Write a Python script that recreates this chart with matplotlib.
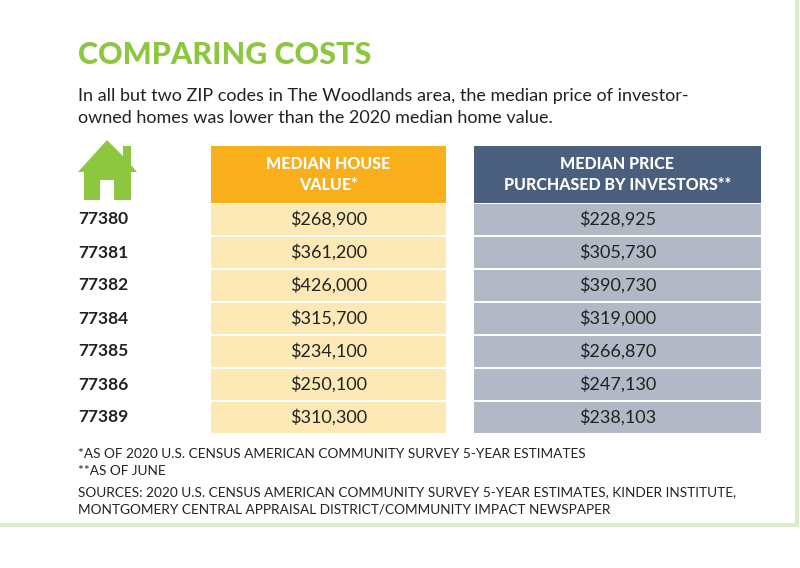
import matplotlib.pyplot as plt
from matplotlib.patches import Rectangle, Polygon

zips = ['77380', '77381', '77382', '77384', '77385', '77386', '77389']
house_value = ['$268,900', '$361,200', '$426,000', '$315,700', '$234,100', '$250,100', '$310,300']
investor_price = ['$228,925', '$305,730', '$390,730', '$319,000', '$266,870', '$247,130', '$238,103']

green = '#8dc63f'
plt.rcParams['font.family'] = ['Lato', 'DejaVu Sans']

fig = plt.figure(figsize=(8, 5.68), dpi=100)
ax = fig.add_axes([0, 0, 1, 1])
ax.set_xlim(0, 800)
ax.set_ylim(568, 0)
ax.axis('off')

# light green frame on the right and bottom
ax.plot([797, 797], [0, 525], color='#dcebc8', lw=3)
ax.plot([0, 797], [525, 525], color='#dcebc8', lw=3)

ax.text(78, 55, 'COMPARING COSTS', color=green, fontsize=22, fontweight='black', va='center')
ax.text(78, 96, 'In all but two ZIP codes in The Woodlands area, the median price of investor-',
        fontsize=13, va='center', color='#222222')
ax.text(78, 118, 'owned homes was lower than the 2020 median home value.',
        fontsize=13, va='center', color='#222222')

# house icon
ax.add_patch(Polygon([(78, 172), (107, 140), (123, 156), (123, 146), (131, 146), (131, 165),
                      (137, 172), (131, 172), (131, 200), (114, 200), (114, 180), (100, 180),
                      (100, 200), (84, 200), (84, 172)], closed=True, color=green, lw=0))

cols = [(211, 446, '#f9ae1c', '#fde9b5', 'MEDIAN HOUSE\nVALUE*', house_value),
        (474, 761, '#4a5f7e', '#b2b8c6', 'MEDIAN PRICE\nPURCHASED BY INVESTORS**', investor_price)]
top, head_h, row_h = 146, 57, 33
for x0, x1, hc, rc, title, vals in cols:
    ax.add_patch(Rectangle((x0, top), x1 - x0, head_h, color=hc, lw=0))
    ax.text((x0 + x1) / 2, top + head_h / 2, title, color='white', fontsize=11.5,
            fontweight='black', ha='center', va='center', linespacing=1.45)
    for i, v in enumerate(vals):
        y = top + head_h + i * row_h
        ax.add_patch(Rectangle((x0, y + 1), x1 - x0, row_h - 2, color=rc, lw=0))
        ax.text((x0 + x1) / 2, y + row_h / 2, v, fontsize=13, ha='center', va='center',
                color='#222222')

for i, z in enumerate(zips):
    ax.text(78, top + head_h + i * row_h + row_h / 2, z, fontsize=12.5, fontweight='bold',
            va='center', color='#222222')

notes = ['*AS OF 2020 U.S. CENSUS AMERICAN COMMUNITY SURVEY 5-YEAR ESTIMATES',
         '**AS OF JUNE']
for i, n in enumerate(notes):
    ax.text(78, 454 + i * 17, n, fontsize=9.8, va='center', color='#222222')
src = ['SOURCES: 2020 U.S. CENSUS AMERICAN COMMUNITY SURVEY 5-YEAR ESTIMATES, KINDER INSTITUTE,',
       'MONTGOMERY CENTRAL APPRAISAL DISTRICT/COMMUNITY IMPACT NEWSPAPER']
for i, n in enumerate(src):
    ax.text(78, 492 + i * 18, n, fontsize=9.8, va='center', color='#222222')

fig.savefig('out.png', dpi=100)
